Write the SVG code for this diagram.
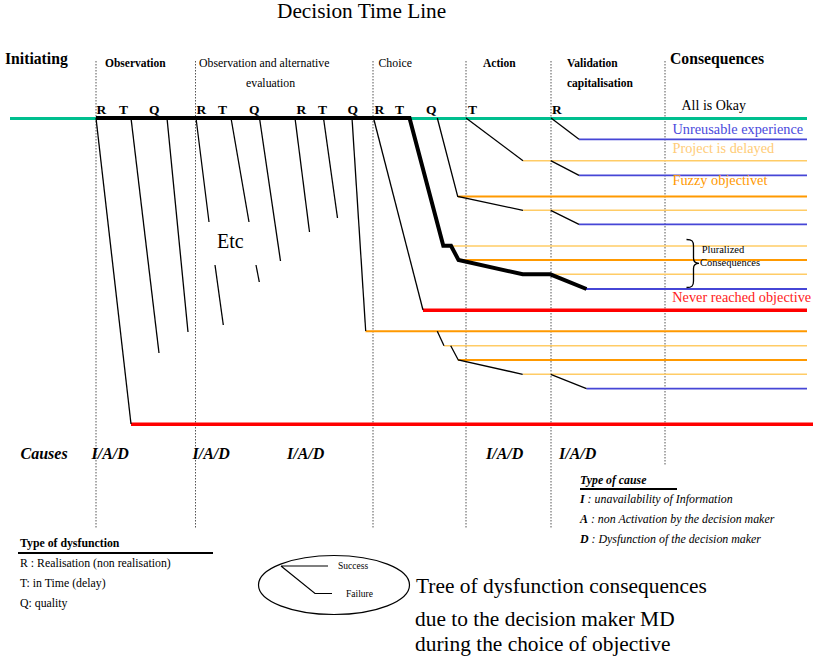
<svg xmlns="http://www.w3.org/2000/svg" width="813" height="657" viewBox="0 0 813 657">
<style>
text{font-family:"Liberation Serif","Times New Roman",serif;fill:#000}
.hb{font-weight:bold;font-size:11.5px}
.hr{font-size:11.8px}
.big{font-weight:bold;font-size:15.7px}
.rtq{font-weight:bold;font-size:13.5px}
.cons{font-size:14.3px}
.cause{font-weight:bold;font-style:italic;font-size:16px}
.leg{font-size:11.8px}
.legi{font-style:italic;font-size:11.9px}
.cap{font-size:21.4px}
.dot{stroke:#555;stroke-width:1;stroke-dasharray:1.5,1.5;fill:none}
.thin{stroke:#000;stroke-width:1.3;fill:none}
.thick{stroke:#000;stroke-width:4;fill:none;stroke-linejoin:miter}
.grn{stroke:#00bf8f;stroke-width:3}
.red{stroke:#ff0000;stroke-width:3.5}
.blu{stroke:#4646d6;stroke-width:1.8}
.lor{stroke:#ffcc66;stroke-width:1.6}
.org{stroke:#ff9900;stroke-width:2}
</style>

<g id="title"><text x="277" y="18" style="font-size:21.3px">Decision Time Line</text></g>

<g id="dotted-lines">
<line class="dot" x1="96" y1="61" x2="96" y2="529"/>
<line class="dot" x1="195.5" y1="61" x2="195.5" y2="529"/>
<line class="dot" x1="373" y1="61" x2="373" y2="529"/>
<line class="dot" x1="466" y1="61" x2="466" y2="529"/>
<line class="dot" x1="551" y1="61" x2="551" y2="529"/>
<line class="dot" x1="665" y1="61" x2="665" y2="466"/>
</g>

<g id="headers">
<text class="big" x="5" y="64">Initiating</text>
<text class="hb" x="105" y="67">Observation</text>
<text class="hr" x="199" y="67">Observation and alternative</text>
<text class="hr" x="246" y="87">evaluation</text>
<text class="hr" x="378.5" y="67">Choice</text>
<text class="hb" x="483" y="67">Action</text>
<text class="hb" x="567" y="67">Validation</text>
<text class="hb" x="567" y="86.5">capitalisation</text>
<text class="big" x="670" y="64">Consequences</text>
</g>

<g id="rtq-labels">
<text class="rtq" x="96.5" y="114">R</text>
<text class="rtq" x="119" y="114">T</text>
<text class="rtq" x="149" y="114">Q</text>
<text class="rtq" x="196.5" y="114">R</text>
<text class="rtq" x="218" y="114">T</text>
<text class="rtq" x="249" y="114">Q</text>
<text class="rtq" x="296.5" y="114">R</text>
<text class="rtq" x="318" y="114">T</text>
<text class="rtq" x="347.5" y="114">Q</text>
<text class="rtq" x="374.5" y="114">R</text>
<text class="rtq" x="395" y="114">T</text>
<text class="rtq" x="426" y="114">Q</text>
<text class="rtq" x="468" y="114">T</text>
<text class="rtq" x="552" y="114">R</text>
</g>

<g id="connectors">
<line class="grn" x1="10" y1="118.5" x2="807" y2="118.5"/>
<line class="red" x1="131" y1="424.3" x2="813" y2="424.3"/>
<line class="red" x1="423" y1="310.3" x2="807" y2="310.3"/>
<line class="org" x1="365.5" y1="331.3" x2="807" y2="331.3"/>
<line class="org" x1="458" y1="196.5" x2="807" y2="196.5"/>
<line class="org" x1="458" y1="260" x2="807" y2="260"/>
<line class="org" x1="458" y1="360" x2="807" y2="360"/>
<line class="lor" x1="523" y1="160.7" x2="807" y2="160.7"/>
<line class="lor" x1="523" y1="210.3" x2="807" y2="210.3"/>
<line class="lor" x1="443" y1="246" x2="807" y2="246"/>
<line class="lor" x1="550" y1="274.3" x2="807" y2="274.3"/>
<line class="lor" x1="444" y1="345.7" x2="807" y2="345.7"/>
<line class="lor" x1="523" y1="374.3" x2="807" y2="374.3"/>
<line class="blu" x1="579" y1="139.3" x2="807" y2="139.3"/>
<line class="blu" x1="579" y1="175.3" x2="807" y2="175.3"/>
<line class="blu" x1="579" y1="224.3" x2="807" y2="224.3"/>
<line class="blu" x1="586" y1="289" x2="807" y2="289"/>
<line class="blu" x1="586.5" y1="388.7" x2="807" y2="388.7"/>

<path class="thin" d="M96,118 L131,424"/>
<path class="thin" d="M131,118 L159,353"/>
<path class="thin" d="M167,118 L188,332"/>
<path class="thin" d="M196,118 L209,222"/>
<path class="thin" d="M231,118 L249,222"/>
<path class="thin" d="M259.5,118 L280.5,261"/>
<path class="thin" d="M295,118 L309.5,232"/>
<path class="thin" d="M323.5,118 L337.5,218"/>
<path class="thin" d="M352,118 L365.7,331"/>
<path class="thin" d="M373.5,118 L423,310"/>
<path class="thin" d="M215,265 L223.3,325"/>
<path class="thin" d="M256,265 L259.3,282"/>

<path class="thin" d="M437.3,118 L457.7,196.5 L523,210.3"/>
<path class="thin" d="M550.7,210.3 L579,224.3"/>
<path class="thin" d="M466,118 L523,160.7"/>
<path class="thin" d="M550.7,160.7 L579,175.3"/>
<path class="thin" d="M551,118 L579,139.3"/>

<path class="thin" d="M437.3,331.3 L444,345.7"/>
<path class="thin" d="M450.7,345.7 L458.3,360 L522.7,374.3"/>
<path class="thin" d="M550.7,374.3 L586.5,388.7"/>

<path class="thick" d="M96,118 L409.5,118 L443.3,245.7 L451,245.7 L458.5,260 L522.7,274.3 L550.3,274.3 L586.5,289"/>
</g>

<g id="etc"><text x="217" y="248" style="font-size:20px">Etc</text></g>

<g id="consequences">
<text class="cons" x="681.5" y="110" style="font-size:14px">All is Okay</text>
<text class="cons" x="672.5" y="134.3" style="fill:#4a4adc">Unreusable experience</text>
<text class="cons" x="672.5" y="152.7" style="fill:#ffcc77">Project is delayed</text>
<text class="cons" x="672.5" y="185" style="fill:#ff9900">Fuzzy objectivet</text>
<text class="cons" x="672.3" y="302" style="fill:#ff1a1a">Never reached objective</text>
</g>

<g id="pluralized">
<path d="M686.5,239.5 C692,239.5 693.5,241 693.5,246 L693.5,258 C693.5,261.5 695,263.3 699,263.3 C695,263.3 693.5,265 693.5,268.5 L693.5,281 C693.5,286 692,287.5 686.5,287.5" fill="none" stroke="#000" stroke-width="1.3"/>
<text x="701.7" y="252.7" style="font-size:10.5px">Pluralized</text>
<text x="700" y="266.3" style="font-size:10.5px">Consequences</text>
</g>

<g id="causes">
<text class="cause" x="20.5" y="458.5">Causes</text>
<text class="cause" x="91.5" y="458.5">I/A/D</text>
<text class="cause" x="192.5" y="458.5">I/A/D</text>
<text class="cause" x="287" y="458.5">I/A/D</text>
<text class="cause" x="486" y="458.5">I/A/D</text>
<text class="cause" x="559" y="458.5">I/A/D</text>
</g>

<g id="type-of-cause">
<text x="580" y="484" style="font-weight:bold;font-style:italic;font-size:11.8px">Type of cause</text>
<line x1="580" y1="489" x2="677" y2="489" stroke="#000" stroke-width="2"/>
<text class="legi" x="580" y="503.3"><tspan style="font-weight:bold">I</tspan>  : unavailability of Information</text>
<text class="legi" x="580" y="523"><tspan style="font-weight:bold">A</tspan> : non Activation by the decision maker</text>
<text class="legi" x="580" y="543"><tspan style="font-weight:bold">D</tspan> : Dysfunction of the decision maker</text>
</g>

<g id="type-of-dysfunction">
<text x="20" y="547" style="font-weight:bold;font-size:11.8px">Type of dysfunction</text>
<line x1="18" y1="553" x2="213" y2="553" stroke="#000" stroke-width="2"/>
<text class="leg" x="20" y="567">R : Realisation (non realisation)</text>
<text class="leg" x="20" y="587">T: in Time (delay)</text>
<text class="leg" x="20" y="607">Q: quality</text>
</g>

<g id="success-failure">
<ellipse cx="334" cy="585" rx="75.5" ry="29.5" fill="none" stroke="#000" stroke-width="1.2"/>
<path d="M281,566 L328,566 M281,566 L315,593.5 L332,593.5" fill="none" stroke="#000" stroke-width="1.2"/>
<text x="338" y="569" style="font-size:9.5px">Success</text>
<text x="346" y="597" style="font-size:9.5px">Failure</text>
</g>

<g id="tree-caption">
<text class="cap" x="416" y="593">Tree of dysfunction consequences</text>
<text class="cap" x="415" y="626">due to the decision maker MD</text>
<text class="cap" x="415" y="651">during the choice of objective</text>
</g>
</svg>
